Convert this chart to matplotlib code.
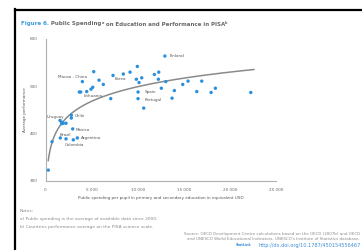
import numpy as np
import matplotlib
matplotlib.use("Agg")
import matplotlib.pyplot as plt
from matplotlib.lines import Line2D

# ---- data ----
spending = [12950, 5230, 4000, 5805, 6271, 5121, 4937, 4470, 3819, 3667,
            7074, 7324, 8441, 9168, 9960, 9852, 10438, 10145, 10036, 10036,
            10655, 11805, 12282, 12239, 12564, 13042, 13725, 13975, 14886, 15461,
            16405, 16948, 17957, 18423, 22264,
            2800, 2800, 1573, 1758, 1931, 1758, 2224, 2951, 1606, 2224,
            3016, 3450, 705, 304]
performance = [564, 531, 510, 513, 504, 498, 494, 489, 488, 488,
               474, 523, 526, 530, 542, 515, 518, 508, 488, 474,
               454, 525, 530, 515, 496, 510, 475, 491, 504, 511,
               489, 511, 487, 496, 487,
               439, 433, 428, 424, 422, 421, 422, 410, 391, 389,
               387, 391, 383, 323]
country_labels = ["Finland", "Macao - China", "Korea", "Lithuania", "Spain", "Portugal",
                  "Uruguay", "Chile", "Mexico", "Brazil", "Argentina", "Colombia"]
label_pos = [(13508, 564), (1356, 519), (7541, 516), (4101, 479), (10796, 487), (10796, 472),
             (130, 435.5), (3125, 437), (3309, 408.5), (1497, 398), (3819, 390), (2040, 377)]
# logarithmic trend line  y = a*ln(x) + b
trend_a = 44.5
trend_b = 89.4
trend_range = (300, 22600)
x_ticks = [0, 5000, 10000, 15000, 20000, 25000]
x_tick_labels = ["0", "5 000", "10 000", "15 000", "20 000", "25 000"]
y_ticks = [300, 400, 500, 600]

W, H = 362, 250
fig = plt.figure(figsize=(W / 100, H / 100), dpi=100)
fig.patch.set_facecolor("white")

def fx(px):
    return px / W

def fy(py):
    return 1 - py / H

# frame lines
fig.add_artist(Line2D([fx(15), fx(15)], [fy(9), 0], color="black", lw=1.6, transform=fig.transFigure))
fig.add_artist(Line2D([fx(15), 1], [fy(9.5), fy(9.5)], color="black", lw=1.6, transform=fig.transFigure))

ax = fig.add_axes([fx(45.5), fy(181), fx(276) - fx(45.5), fy(39) - fy(181)])
ax.set_xlim(0, 25000)
ax.set_ylim(300, 600)
for s in ["top", "right"]:
    ax.spines[s].set_visible(False)
for s in ["left", "bottom"]:
    ax.spines[s].set_color("#b0b0b0")
    ax.spines[s].set_linewidth(0.8)
ax.set_xticks(x_ticks)
ax.set_xticklabels(x_tick_labels)
ax.set_yticks(y_ticks)
ax.tick_params(length=0, labelsize=3, colors="#666666")
ax.tick_params(axis="y", pad=6)
ax.tick_params(axis="x", pad=5)

xt = np.linspace(trend_range[0], trend_range[1], 300)
ax.plot(xt, trend_a * np.log(xt) + trend_b, color="#8a8a8a", lw=1.1, zorder=2)
ax.scatter(spending, performance, s=6, color="#2a8fdc", edgecolors="none", zorder=3)

for lab, (lx, ly) in zip(country_labels, label_pos):
    ax.text(lx, ly, lab, fontsize=3, color="#555555", ha="left", va="center", clip_on=False)

ax.set_ylabel("Average performance", fontsize=3, color="#555555", labelpad=2)
ax.set_xlabel("Public spending per pupil in primary and secondary education in equivalent USD",
              fontsize=3, color="#555555", labelpad=3)

# title with mixed styles
t1 = fig.text(fx(21), fy(24), "Figure 6.", fontsize=4, fontweight="bold", color="#3d9bdc",
              va="center", ha="left")
t2 = fig.text(0, 0, " Public Spending", fontsize=4, fontweight="bold", color="#6a6a6a")
fig.canvas.draw()
r = fig.canvas.get_renderer()
bb = t1.get_window_extent(r)
t2.set_position((bb.x1 / fig.bbox.width, fy(24)))
t2.set_va("center")
fig.canvas.draw()
bb2 = t2.get_window_extent(r)
t3 = fig.text(bb2.x1 / fig.bbox.width, fy(22.5), "a", fontsize=2.5, fontweight="bold", color="#6a6a6a", va="center")
fig.canvas.draw()
bb3 = t3.get_window_extent(r)
t4 = fig.text(bb3.x1 / fig.bbox.width, fy(24), " on Education and Performance in PISA", fontsize=4,
              fontweight="bold", color="#6a6a6a", va="center")
fig.canvas.draw()
bb4 = t4.get_window_extent(r)
fig.text(bb4.x1 / fig.bbox.width, fy(22.5), "b", fontsize=2.5, fontweight="bold", color="#6a6a6a", va="center")

note_col = "#8a8a8a"
fig.text(fx(20), fy(210.5), "Notes:", fontsize=3.2, color=note_col, va="center")
fig.text(fx(20), fy(219), "a) Public spending is the average of available data since 2000.", fontsize=3.2,
         color=note_col, va="center")
fig.text(fx(20), fy(227), "b) Countries performance average on the PISA science scale.", fontsize=3.2,
         color=note_col, va="center")
fig.text(fx(360), fy(234), "Source: OECD Development Centre calculations based on the OECD (2007b) and OECD",
         fontsize=2.9, color=note_col, va="center", ha="right")
fig.text(fx(360), fy(239.5), "and UNESCO World Educational Indicators, UNESCO's Institute of Statistics database.",
         fontsize=2.9, color=note_col, va="center", ha="right")
fig.text(fx(361), fy(245), "http://dx.doi.org/10.1787/450154556467", fontsize=3.6, color="#3d8fd6",
         va="center", ha="right")
fig.text(fx(252), fy(245), "StatLink", fontsize=2.4, color="#3d8fd6", fontweight="bold",
         va="center", ha="right")

fig.savefig("out.png", dpi=100, facecolor="white")
